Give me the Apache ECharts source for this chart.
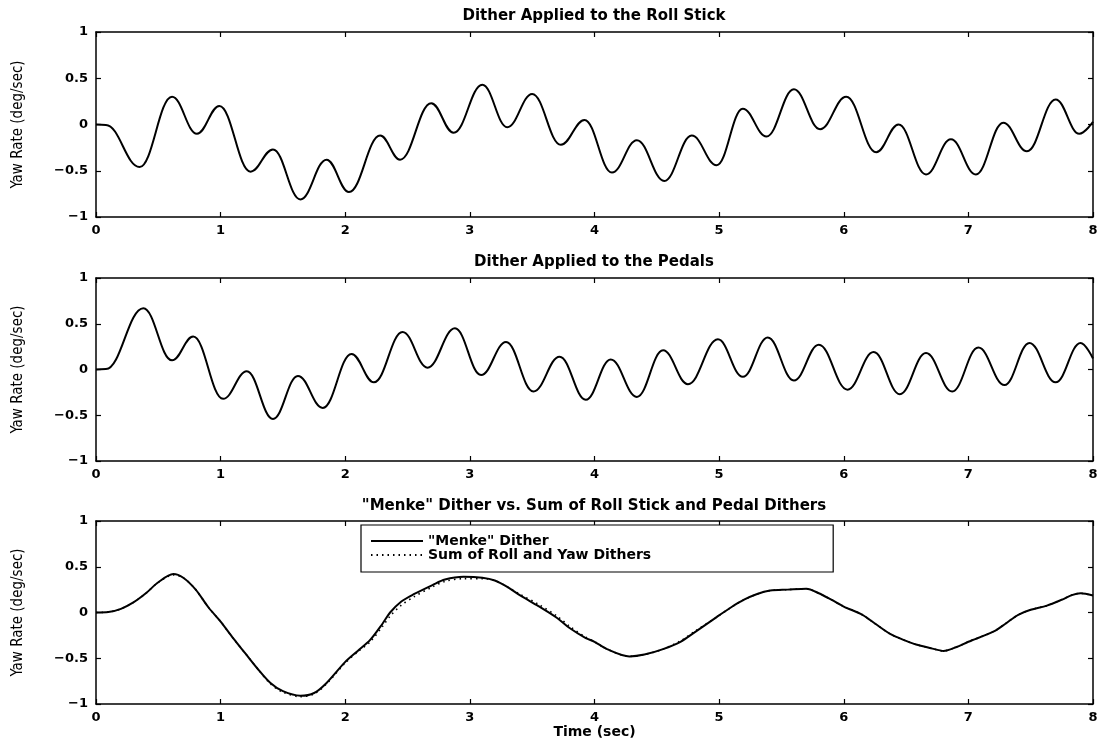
<!DOCTYPE html>
<html><head><meta charset="utf-8">
<script src="https://cdn.jsdelivr.net/npm/echarts@6/dist/echarts.min.js"></script>
<style>html,body{margin:0;padding:0;background:#fff}#c{width:1102px;height:740px}</style>
</head><body><div id="c"></div>
<script>
// ---- data ----
const panelTitles = [
  'Dither Applied to the Roll Stick',
  'Dither Applied to the Pedals',
  '"Menke" Dither vs. Sum of Roll Stick and Pedal Dithers'
];
const yName = 'Yaw Rate (deg/sec)';
const xName = 'Time (sec)';
const xTicks = [0, 1, 2, 3, 4, 5, 6, 7, 8];
const yTicks = [-1, -0.5, 0, 0.5, 1];
const legendNames = ['"Menke" Dither', 'Sum of Roll and Yaw Dithers'];

// Panel 1: roll stick dither (turning points)
const rollTime = [0, 0.08, 0.35, 0.61, 0.81, 0.99, 1.24, 1.42, 1.64, 1.85, 2.03, 2.28, 2.44, 2.69, 2.87, 3.10, 3.30, 3.50, 3.73, 3.92, 4.14, 4.34, 4.56, 4.78, 4.98, 5.19, 5.38, 5.60, 5.81, 6.02, 6.26, 6.44, 6.66, 6.86, 7.06, 7.28, 7.47, 7.70, 7.89, 8.0];
const rollRate = [0, -0.005, -0.46, 0.30, -0.10, 0.20, -0.51, -0.27, -0.81, -0.38, -0.73, -0.12, -0.38, 0.23, -0.09, 0.43, -0.03, 0.33, -0.22, 0.05, -0.52, -0.17, -0.61, -0.12, -0.44, 0.17, -0.13, 0.38, -0.05, 0.30, -0.30, 0.00, -0.54, -0.16, -0.54, 0.02, -0.29, 0.27, -0.10, 0.03];

// Panel 2: pedal dither (turning points)
const pedalTime = [0, 0.08, 0.38, 0.61, 0.78, 1.02, 1.21, 1.42, 1.62, 1.82, 2.05, 2.23, 2.46, 2.66, 2.88, 3.09, 3.29, 3.51, 3.72, 3.93, 4.13, 4.34, 4.55, 4.75, 4.99, 5.19, 5.39, 5.60, 5.80, 6.03, 6.24, 6.45, 6.66, 6.87, 7.08, 7.29, 7.49, 7.70, 7.90, 8.0];
const pedalRate = [0, 0.005, 0.67, 0.10, 0.36, -0.32, -0.02, -0.54, -0.07, -0.42, 0.17, -0.14, 0.41, 0.02, 0.45, -0.06, 0.30, -0.24, 0.14, -0.33, 0.11, -0.30, 0.21, -0.16, 0.33, -0.08, 0.35, -0.12, 0.27, -0.22, 0.19, -0.27, 0.18, -0.24, 0.24, -0.17, 0.29, -0.14, 0.29, 0.12];

// Panel 3: "Menke" dither
const menkeTime = [0, 0.1, 0.2, 0.3, 0.4, 0.5, 0.62, 0.7, 0.8, 0.9, 1.0, 1.1, 1.2, 1.3, 1.4, 1.5, 1.64, 1.75, 1.85, 2.0, 2.1, 2.2, 2.3, 2.36, 2.45, 2.55, 2.7, 2.8, 2.95, 3.1, 3.2, 3.3, 3.4, 3.55, 3.7, 3.8, 3.93, 4.0, 4.1, 4.28, 4.4, 4.55, 4.69, 4.8, 4.98, 5.1, 5.2, 5.3, 5.41, 5.55, 5.7, 5.8, 5.9, 6.0, 6.15, 6.25, 6.38, 6.5, 6.58, 6.7, 6.8, 6.9, 7.0, 7.2, 7.3, 7.4, 7.5, 7.63, 7.75, 7.83, 7.9, 8.0];
const menkeRate = [0, 0.005, 0.04, 0.11, 0.21, 0.33, 0.42, 0.38, 0.25, 0.06, -0.10, -0.28, -0.45, -0.62, -0.77, -0.86, -0.91, -0.88, -0.77, -0.54, -0.42, -0.30, -0.12, 0.0, 0.12, 0.20, 0.30, 0.36, 0.39, 0.38, 0.35, 0.28, 0.19, 0.07, -0.06, -0.17, -0.28, -0.32, -0.40, -0.48, -0.46, -0.40, -0.32, -0.22, -0.05, 0.06, 0.14, 0.20, 0.24, 0.25, 0.26, 0.21, 0.14, 0.065, -0.025, -0.12, -0.24, -0.31, -0.35, -0.39, -0.42, -0.38, -0.32, -0.21, -0.12, -0.025, 0.03, 0.075, 0.14, 0.19, 0.21, 0.185];

// Panel 3: sum of roll and yaw dithers (dotted)
const sumTime = menkeTime;
const sumRate = [0, 0.005, 0.04, 0.11, 0.21, 0.33, 0.41, 0.38, 0.25, 0.06, -0.10, -0.28, -0.45, -0.62, -0.78, -0.87, -0.92, -0.89, -0.78, -0.55, -0.43, -0.32, -0.15, -0.04, 0.08, 0.17, 0.28, 0.34, 0.37, 0.37, 0.35, 0.28, 0.20, 0.09, -0.04, -0.15, -0.27, -0.32, -0.40, -0.48, -0.46, -0.40, -0.31, -0.21, -0.05, 0.06, 0.14, 0.20, 0.24, 0.25, 0.26, 0.21, 0.14, 0.065, -0.025, -0.12, -0.24, -0.31, -0.35, -0.39, -0.42, -0.38, -0.32, -0.21, -0.12, -0.025, 0.03, 0.075, 0.14, 0.19, 0.21, 0.185];

// ---- chart ----
const pairs = (t, v) => t.map((x, i) => [x, v[i]]);
const FONT = 'DejaVu Sans';
const NARROW = "'Liberation Sans Narrow', 'DejaVu Sans Condensed', 'Liberation Sans', sans-serif";
const grids = [
  {left: 96, top: 32, width: 997, height: 185},
  {left: 96, top: 278, width: 997, height: 183},
  {left: 96, top: 521, width: 997, height: 185}
];
const titleTops = [9, 255, 499];
const axLine = {show: true, onZero: false, lineStyle: {color: '#000', width: 1.5}};
const xAxes = [], yAxes = [];
grids.forEach((g, i) => {
  xAxes.push({
    type: 'value', gridIndex: i, position: 'bottom', min: xTicks[0], max: xTicks[xTicks.length - 1], interval: 1,
    axisLine: axLine, splitLine: {show: false},
    axisTick: {inside: true, length: 5, lineStyle: {color: '#000', width: 1.2}},
    axisLabel: {color: '#000', fontFamily: FONT, fontWeight: 'bold', fontSize: 13, margin: 7},
    name: i === 2 ? xName : '', nameLocation: 'middle', nameGap: 21,
    nameTextStyle: {color: '#000', fontFamily: FONT, fontWeight: 'bold', fontSize: 14}
  });
  xAxes.push({
    type: 'value', gridIndex: i, position: 'top', min: xTicks[0], max: xTicks[xTicks.length - 1], interval: 1,
    axisLine: axLine, splitLine: {show: false},
    axisTick: {inside: true, length: 5, lineStyle: {color: '#000', width: 1.2}},
    axisLabel: {show: false}
  });
  yAxes.push({
    type: 'value', gridIndex: i, position: 'left', min: yTicks[0], max: yTicks[yTicks.length - 1], interval: 0.5,
    axisLine: axLine, splitLine: {show: false},
    axisTick: {inside: true, length: 5, lineStyle: {color: '#000', width: 1.2}},
    axisLabel: {color: '#000', fontFamily: FONT, fontWeight: 'bold', fontSize: 13, margin: 8,
      formatter: v => String(v).replace('-', '\u2212')},
    name: yName, nameLocation: 'middle', nameGap: 70, nameRotate: 90,
    nameTextStyle: {color: '#000', fontFamily: NARROW, fontSize: 15}
  });
  yAxes.push({
    type: 'value', gridIndex: i, position: 'right', min: yTicks[0], max: yTicks[yTicks.length - 1], interval: 0.5,
    axisLine: axLine, splitLine: {show: false},
    axisTick: {inside: true, length: 5, lineStyle: {color: '#000', width: 1.2}},
    axisLabel: {show: false}
  });
});

const lineBase = {type: 'line', showSymbol: false, symbol: 'none', symbolSize: 0, animation: false, silent: true};
const option = {
  backgroundColor: '#fff',
  animation: false,
  title: panelTitles.map((t, i) => ({
    text: t, left: 594, top: titleTops[i], textAlign: 'center', padding: 0,
    textStyle: {color: '#000', fontFamily: FONT, fontWeight: 'bold', fontSize: 15}
  })),
  grid: grids,
  xAxis: xAxes,
  yAxis: yAxes,
  legend: {
    data: legendNames, left: 361, top: 525, orient: 'vertical',
    backgroundColor: '#fff', borderColor: '#000', borderWidth: 1.2,
    padding: [9, 182, 10, 9], itemGap: 0, itemWidth: 52, itemHeight: 10,
    itemStyle: {opacity: 0},
    textStyle: {color: '#000', fontFamily: FONT, fontWeight: 'bold', fontSize: 14, lineHeight: 13},
    selectedMode: false
  },
  series: [
    Object.assign({}, lineBase, {name: 'roll', xAxisIndex: 0, yAxisIndex: 0, data: pairs(rollTime, rollRate),
      smooth: 0.4, smoothMonotone: 'x', lineStyle: {color: '#000', width: 2}}),
    Object.assign({}, lineBase, {name: 'pedal', xAxisIndex: 2, yAxisIndex: 2, data: pairs(pedalTime, pedalRate),
      smooth: 0.4, smoothMonotone: 'x', lineStyle: {color: '#000', width: 2}}),
    Object.assign({}, lineBase, {name: legendNames[0], xAxisIndex: 4, yAxisIndex: 4, data: pairs(menkeTime, menkeRate),
      smooth: 0.3, itemStyle: {color: '#000'}, lineStyle: {color: '#000', width: 2, type: 'solid'}}),
    Object.assign({}, lineBase, {name: legendNames[1], xAxisIndex: 4, yAxisIndex: 4, data: pairs(sumTime, sumRate),
      smooth: 0.3, itemStyle: {color: '#000'}, lineStyle: {color: '#000', width: 1.6, type: [1.5, 4]}})
  ]
};
const chart = echarts.init(document.getElementById('c'), null, {renderer: 'canvas'});
chart.setOption(option);
</script>
</body></html>
